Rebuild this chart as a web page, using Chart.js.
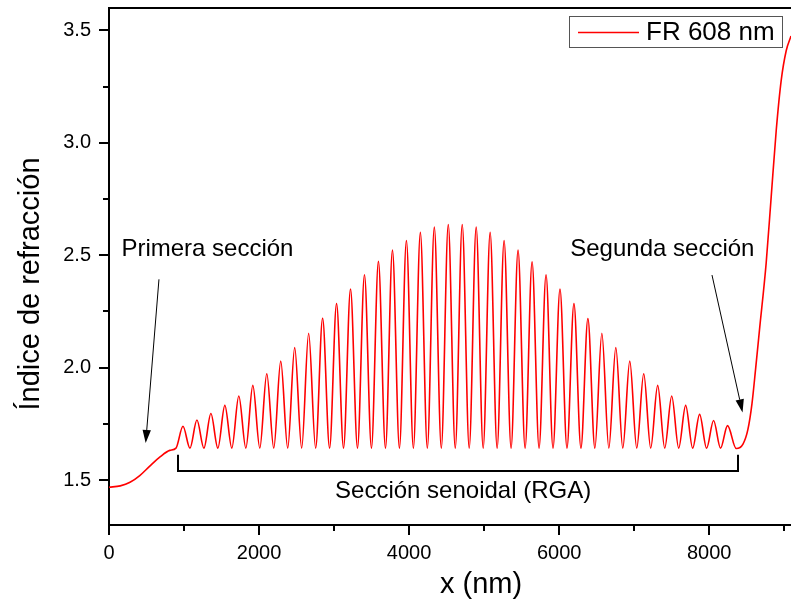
<!DOCTYPE html>
<html>
<head>
<meta charset="utf-8">
<script src="https://cdn.jsdelivr.net/npm/chart.js@4.4.0/dist/chart.umd.min.js"></script>
<style>
  html, body { margin: 0; padding: 0; background: #fff; }
  #wrap { width: 791px; height: 600px; position: relative; }
</style>
</head>
<body>
<div id="wrap"><canvas id="c" width="791" height="600"></canvas></div>
<script>
// ---------------- data ----------------
const seriesLabel = 'FR 608 nm';

// first section (smooth step)
const primeraX = [0, 150, 280, 410, 540, 680, 810];
const primeraY = [1.468, 1.474, 1.490, 1.520, 1.561, 1.603, 1.632];

// sinusoidal section (RGA): troughs and peaks
const rgaX = [893, 986, 1079, 1172, 1265, 1358, 1451, 1544, 1637, 1730,
              1824, 1917, 2010, 2103, 2196, 2289, 2382, 2475, 2568, 2661,
              2754, 2847, 2940, 3033, 3126, 3219, 3312, 3405, 3498, 3591,
              3685, 3778, 3871, 3964, 4057, 4150, 4243, 4336, 4429, 4522,
              4615, 4708, 4801, 4894, 4987, 5080, 5173, 5266, 5359, 5452,
              5546, 5639, 5732, 5825, 5918, 6011, 6104, 6197, 6290, 6383,
              6476, 6569, 6662, 6755, 6848, 6941, 7034, 7127, 7220, 7313,
              7407, 7500, 7593, 7686, 7779, 7872, 7965, 8058, 8151, 8244,
              8360];
const rgaY = [1.642, 1.739, 1.642, 1.767, 1.642, 1.796, 1.642, 1.832, 1.642, 1.874,
              1.642, 1.921, 1.642, 1.973, 1.642, 2.029, 1.642, 2.089, 1.642, 2.153,
              1.642, 2.220, 1.642, 2.285, 1.642, 2.350, 1.642, 2.413, 1.642, 2.473,
              1.642, 2.523, 1.642, 2.566, 1.642, 2.602, 1.642, 2.625, 1.642, 2.637,
              1.642, 2.637, 1.642, 2.625, 1.642, 2.602, 1.642, 2.566, 1.642, 2.523,
              1.642, 2.471, 1.642, 2.413, 1.642, 2.350, 1.642, 2.285, 1.642, 2.218,
              1.642, 2.153, 1.642, 2.089, 1.642, 2.029, 1.642, 1.973, 1.642, 1.921,
              1.642, 1.874, 1.642, 1.832, 1.642, 1.792, 1.642, 1.765, 1.642, 1.742,
              1.640];

// second section (steep rise)
const segundaX = [8450, 8515, 8570, 8620, 8670, 8759, 8826, 8893, 8959, 9026, 9090];
const segundaY = [1.660, 1.724, 1.840, 2.000, 2.168, 2.465, 2.760, 3.055, 3.277, 3.410, 3.475];

// axis ticks
const xTickValues = [0, 2000, 4000, 6000, 8000];
const xMinorTicks = [1000, 3000, 5000, 7000, 9000];
const yTickValues = [1.5, 2.0, 2.5, 3.0, 3.5];
const yMinorTicks = [1.75, 2.25, 2.75, 3.25];

// texts
const xTitle = 'x (nm)';
const yTitle = 'Índice de refracción';
const labelPrimera = 'Primera sección';
const labelSegunda = 'Segunda sección';
const labelRGA = 'Sección senoidal (RGA)';

// ---------------- build ----------------
const allX = primeraX.concat(rgaX, segundaX);
const allY = primeraY.concat(rgaY, segundaY);
const points = allX.map((x, i) => ({ x: x, y: allY[i] }));

const FONT = '"Liberation Sans", Arial, Helvetica, sans-serif';

// annotation geometry (in data units)
const ann = {
  primera: { x: 165, y: 2.496 },
  segunda: { x: 6148, y: 2.496 },
  rga: { x: 4720, y: 1.421 },
  arrow1: { x1: 666, y1: 2.393, x2: 489, y2: 1.665 },
  arrow2: { x1: 8037, y1: 2.412, x2: 8444, y2: 1.801 },
  bracket: { x1: 919, x2: 8390, yTop: 1.613, yBottom: 1.539 }
};

function arrow(ctx, x1, y1, x2, y2) {
  const ang = Math.atan2(y2 - y1, x2 - x1);
  const L = 13, W = 4.2;
  const bx = x2 - L * Math.cos(ang), by = y2 - L * Math.sin(ang);
  ctx.beginPath();
  ctx.moveTo(x1, y1);
  ctx.lineTo(bx, by);
  ctx.stroke();
  ctx.beginPath();
  ctx.moveTo(x2, y2);
  ctx.lineTo(bx + W * Math.sin(ang), by - W * Math.cos(ang));
  ctx.lineTo(bx - W * Math.sin(ang), by + W * Math.cos(ang));
  ctx.closePath();
  ctx.fill();
}

const decor = {
  id: 'decor',
  afterDraw(chart) {
    const { ctx, chartArea: a, scales } = chart;
    const xs = scales.x, ys = scales.y;
    ctx.save();
    ctx.strokeStyle = '#000';
    ctx.fillStyle = '#000';
    // top frame line
    ctx.lineWidth = 2;
    ctx.beginPath();
    ctx.moveTo(a.left - 1, a.top);
    ctx.lineTo(a.right, a.top);
    ctx.stroke();
    // tick marks
    ctx.lineWidth = 2;
    xTickValues.forEach(v => {
      const p = Math.round(xs.getPixelForValue(v));
      ctx.beginPath(); ctx.moveTo(p, a.bottom); ctx.lineTo(p, a.bottom + 10); ctx.stroke();
    });
    xMinorTicks.forEach(v => {
      const p = Math.round(xs.getPixelForValue(v));
      ctx.beginPath(); ctx.moveTo(p, a.bottom); ctx.lineTo(p, a.bottom + 6); ctx.stroke();
    });
    yTickValues.forEach(v => {
      const p = Math.round(ys.getPixelForValue(v));
      ctx.beginPath(); ctx.moveTo(a.left - 10, p); ctx.lineTo(a.left, p); ctx.stroke();
    });
    yMinorTicks.forEach(v => {
      const p = Math.round(ys.getPixelForValue(v));
      ctx.beginPath(); ctx.moveTo(a.left - 6, p); ctx.lineTo(a.left, p); ctx.stroke();
    });

    // axis titles
    ctx.font = '29px ' + FONT;
    ctx.textAlign = 'center';
    ctx.textBaseline = 'middle';
    ctx.fillText(xTitle, 481, 585);
    ctx.save();
    ctx.translate(31, 284);
    ctx.rotate(-Math.PI / 2);
    ctx.fillText(yTitle, 0, 0);
    ctx.restore();

    // annotations
    ctx.font = '24px ' + FONT;
    ctx.textBaseline = 'alphabetic';
    ctx.textAlign = 'left';
    ctx.fillText(labelPrimera, xs.getPixelForValue(ann.primera.x), ys.getPixelForValue(ann.primera.y));
    ctx.fillText(labelSegunda, xs.getPixelForValue(ann.segunda.x), ys.getPixelForValue(ann.segunda.y));
    ctx.textAlign = 'center';
    ctx.fillText(labelRGA, xs.getPixelForValue(ann.rga.x), ys.getPixelForValue(ann.rga.y));

    ctx.lineWidth = 1;
    [ann.arrow1, ann.arrow2].forEach(ar => {
      arrow(ctx, xs.getPixelForValue(ar.x1), ys.getPixelForValue(ar.y1),
                 xs.getPixelForValue(ar.x2), ys.getPixelForValue(ar.y2));
    });

    // bracket
    const b = ann.bracket;
    const bx1 = Math.round(xs.getPixelForValue(b.x1)), bx2 = Math.round(xs.getPixelForValue(b.x2));
    const byT = ys.getPixelForValue(b.yTop), byB = Math.round(ys.getPixelForValue(b.yBottom));
    ctx.lineWidth = 2;
    ctx.beginPath();
    ctx.moveTo(bx1, byT);
    ctx.lineTo(bx1, byB);
    ctx.lineTo(bx2, byB);
    ctx.lineTo(bx2, byT);
    ctx.stroke();

    // legend box
    const ds = chart.data.datasets[0];
    const lx = 569.5, ly = 16.5, lw = 213, lh = 31;
    ctx.fillStyle = '#fff';
    ctx.fillRect(lx, ly, lw, lh);
    ctx.strokeStyle = '#555';
    ctx.lineWidth = 1;
    ctx.strokeRect(lx, ly, lw, lh);
    ctx.strokeStyle = ds.borderColor;
    ctx.lineWidth = 1.6;
    ctx.beginPath();
    ctx.moveTo(578, 32.5);
    ctx.lineTo(639, 32.5);
    ctx.stroke();
    ctx.fillStyle = '#000';
    ctx.font = '26px ' + FONT;
    ctx.textAlign = 'left';
    ctx.textBaseline = 'middle';
    ctx.fillText(ds.label, 646, 33);
    ctx.restore();
  }
};

Chart.defaults.font.family = FONT;
Chart.defaults.color = '#000';

new Chart(document.getElementById('c'), {
  type: 'line',
  data: {
    datasets: [{
      label: seriesLabel,
      data: points,
      borderColor: '#ff0000',
      borderWidth: 1.6,
      pointRadius: 0,
      fill: false,
      cubicInterpolationMode: 'monotone'
    }]
  },
  options: {
    responsive: false,
    animation: false,
    layout: { padding: { top: 8, right: 0, left: 0, bottom: 0 } },
    plugins: { legend: { display: false }, tooltip: { enabled: false } },
    scales: {
      x: {
        type: 'linear',
        min: 0,
        max: 9090,
        afterBuildTicks: s => { s.ticks = xTickValues.map(v => ({ value: v })); },
        afterFit: s => { s.height = 75; s.paddingLeft = 0; s.paddingRight = 0; },
        grid: { display: true, drawOnChartArea: false, drawTicks: false },
        border: { display: true, color: '#000', width: 2 },
        ticks: {
          autoSkip: false, maxRotation: 0, padding: 16,
          font: { size: 20 }, color: '#000',
          callback: v => String(v)
        }
      },
      y: {
        type: 'linear',
        min: 1.3,
        max: 3.6,
        afterBuildTicks: s => { s.ticks = yTickValues.map(v => ({ value: v })); },
        afterFit: s => { s.width = 109; s.paddingTop = 0; s.paddingBottom = 0; },
        grid: { display: true, drawOnChartArea: false, drawTicks: false },
        border: { display: true, color: '#000', width: 2 },
        ticks: {
          autoSkip: false, padding: 18,
          font: { size: 20 }, color: '#000',
          callback: v => Number(v).toFixed(1)
        }
      }
    }
  },
  plugins: [decor]
});
</script>
</body>
</html>
